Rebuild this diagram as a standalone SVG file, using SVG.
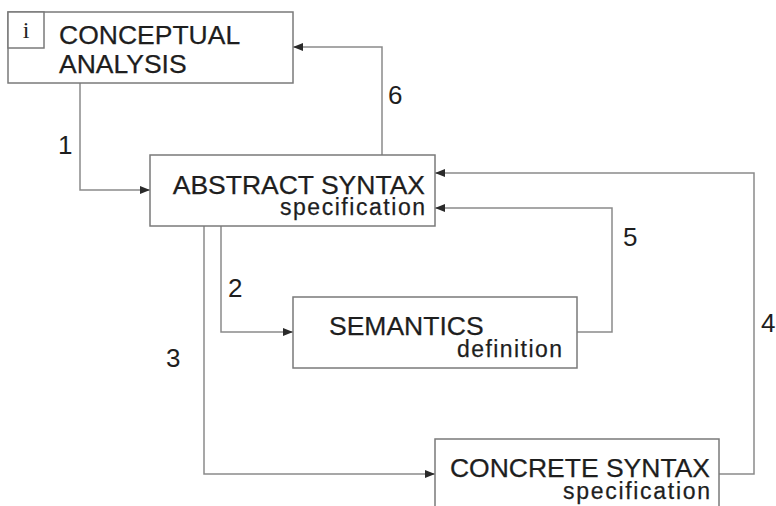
<svg xmlns="http://www.w3.org/2000/svg" width="776" height="506" viewBox="0 0 776 506">
<defs>
<marker id="arr" viewBox="0 0 10 8" refX="10" refY="4" markerWidth="10" markerHeight="8" markerUnits="userSpaceOnUse" orient="auto">
<path d="M0,0 L10,4 L0,8 Z" fill="#2a2a2a"/>
</marker>
</defs>
<style>
.box{fill:#fff;stroke:#7a7a7a;stroke-width:1.5}
.big{font-family:"Liberation Sans",Arial,sans-serif;font-size:26.5px;fill:#1e1e1e;stroke:#1e1e1e;stroke-width:0.25}
.small{font-family:"Liberation Sans",Arial,sans-serif;font-size:23px;fill:#1e1e1e;stroke:#1e1e1e;stroke-width:0.25}
.lbl{font-family:"Liberation Sans",Arial,sans-serif;font-size:26px;fill:#1e1e1e}
.conn{fill:none;stroke:#8a8a8a;stroke-width:1.5}
</style>
<rect width="776" height="506" fill="#fff"/>
<g id="connectors">
<path class="conn" d="M80,83 V190 H150" marker-end="url(#arr)"/>
<path class="conn" d="M221,226 V332 H293" marker-end="url(#arr)"/>
<path class="conn" d="M204,226 V474 H435" marker-end="url(#arr)"/>
<path class="conn" d="M719,474 H754 V173 H435" marker-end="url(#arr)"/>
<path class="conn" d="M577,332 H612 V208 H435" marker-end="url(#arr)"/>
<path class="conn" d="M382,155 V47 H293" marker-end="url(#arr)"/>
<text class="lbl" x="58" y="154">1</text>
<text class="lbl" x="228" y="297">2</text>
<text class="lbl" x="166" y="367">3</text>
<text class="lbl" x="761" y="332">4</text>
<text class="lbl" x="623" y="246">5</text>
<text class="lbl" x="388" y="104">6</text>
</g>
<g id="conceptual">
<rect class="box" x="8" y="12" width="285" height="71"/>
<rect class="box" x="8" y="12" width="36" height="36"/>
<text x="26" y="38" text-anchor="middle" font-family="Liberation Serif,Times New Roman,serif" font-size="24" fill="#222">i</text>
<text class="big" x="59" y="44">CONCEPTUAL</text>
<text class="big" x="59" y="73">ANALYSIS</text>
</g>
<g id="abstract">
<rect class="box" x="150" y="155" width="285" height="71"/>
<text class="big" x="425" y="194" text-anchor="end">ABSTRACT SYNTAX</text>
<text class="small" x="425" y="215" text-anchor="end" textLength="145" lengthAdjust="spacing">specification</text>
</g>
<g id="semantics">
<rect class="box" x="293" y="297" width="284" height="71"/>
<text class="big" x="329" y="335">SEMANTICS</text>
<text class="small" x="562" y="357" text-anchor="end" textLength="105" lengthAdjust="spacing">definition</text>
</g>
<g id="concrete">
<rect class="box" x="435" y="439" width="284" height="80"/>
<text class="big" x="710" y="477" text-anchor="end">CONCRETE SYNTAX</text>
<text class="small" x="710" y="499" text-anchor="end" textLength="147" lengthAdjust="spacing">specification</text>
</g>
</svg>
